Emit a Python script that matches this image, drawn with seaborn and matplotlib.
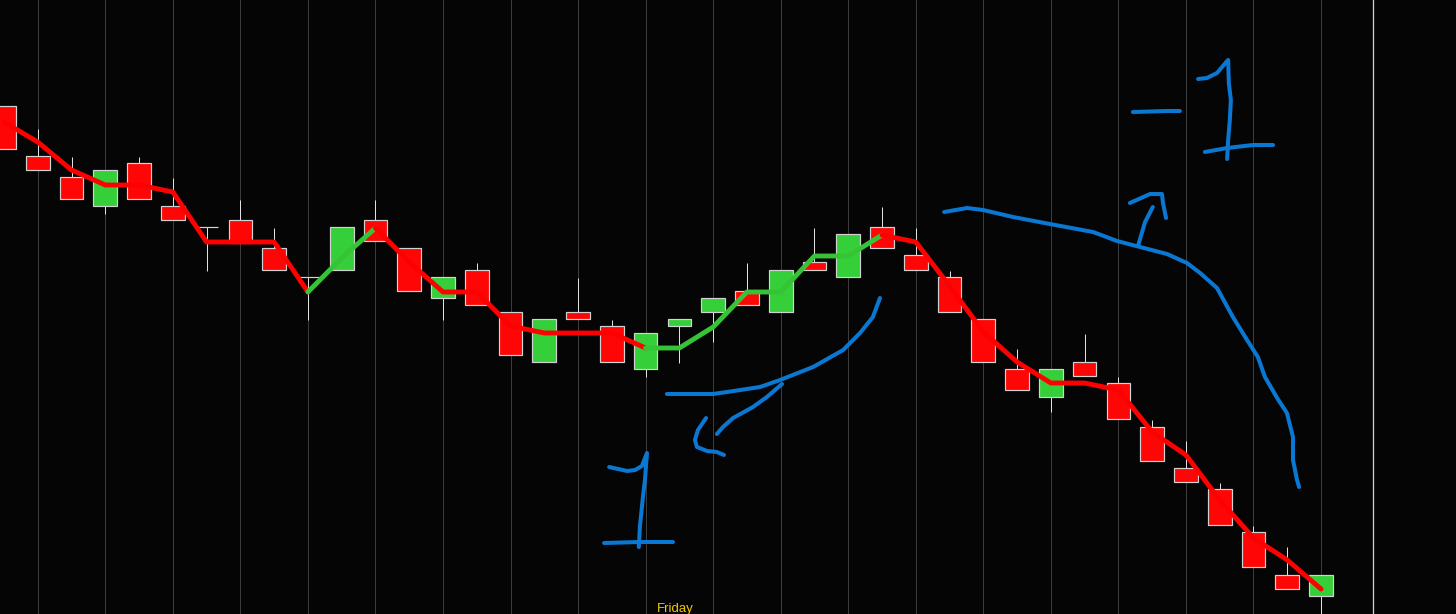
import numpy as np
import pandas as pd
import matplotlib
matplotlib.use("Agg")
import matplotlib.pyplot as plt
import seaborn as sns

# ---------------- data (price units are arbitrary) ----------------
opens  = [50.8, 45.8, 43.7, 40.8, 45.1, 40.8, 38.7, 39.4, 36.6, 33.7,
          34.4, 39.4, 36.6, 31.6, 34.4, 30.2, 25.2, 30.2, 28.8, 24.5,
          28.8, 30.2, 32.3, 30.2, 35.2, 33.7, 38.7, 35.9, 33.7, 29.5,
          24.5, 21.7, 25.2, 23.1, 18.7, 14.6, 12.5, 8.2, 3.9, 1.8]
highs  = [50.8, 48.5, 45.7, 44.4, 45.7, 43.6, 38.7, 41.4, 38.6, 33.7,
          38.7, 41.4, 36.6, 33.7, 35.1, 30.2, 29.5, 33.6, 29.4, 28.1,
          29.5, 31.6, 35.1, 34.4, 38.6, 38.0, 40.7, 38.6, 34.3, 29.5,
          26.5, 24.5, 28.0, 23.7, 19.4, 17.3, 13.1, 8.8, 6.7, 3.9]
lows   = [46.5, 44.4, 41.5, 40.0, 41.5, 39.4, 34.3, 37.1, 34.4, 29.4,
          34.4, 37.3, 32.3, 29.4, 30.9, 25.9, 25.2, 29.5, 25.2, 23.7,
          25.1, 27.2, 30.9, 30.2, 34.4, 33.7, 36.6, 34.4, 30.2, 25.2,
          22.4, 20.2, 23.8, 19.5, 15.3, 13.2, 8.9, 4.7, 2.5, -1.0]
closes = [46.5, 44.4, 41.5, 44.4, 41.5, 39.4, 38.7, 37.1, 34.4, 33.7,
          38.7, 37.3, 32.3, 33.7, 30.9, 25.9, 29.5, 29.5, 25.2, 28.1,
          29.5, 31.6, 30.9, 34.4, 34.4, 38.0, 36.6, 34.4, 30.2, 25.2,
          22.4, 24.5, 23.8, 19.5, 15.3, 13.2, 8.9, 4.7, 2.5, 3.9]

# trend line (one value per candle) and its state per segment
line_values = [49.2, 47.2, 44.4, 42.9, 42.9, 42.2, 37.2, 37.2, 37.2, 32.2,
               35.6, 38.6, 35.2, 32.2, 32.2, 28.8, 28.1, 28.1, 28.1, 26.6,
               26.6, 28.7, 32.2, 32.2, 35.8, 35.8, 37.9, 37.2, 32.8, 28.2,
               25.2, 23.1, 23.1, 22.4, 18.2, 15.9, 11.4, 7.6, 5.4, 2.5]
line_trend = ["down", "down", "down", "down", "down", "down", "down", "down", "down",
              "up", "up",
              "down", "down", "down", "down", "down", "down", "down", "down",
              "up", "up", "up", "up", "up", "up", "up",
              "down", "down", "down", "down", "down", "down", "down", "down",
              "down", "down", "down", "down", "down"]

session_label = "Friday"
session_label_x = 19.87
now_marker_x = 40.53

# hand-drawn annotation strokes, in (candle index, price) units
stroke_one_stem = [(17.92, 14.7), (18.45, 14.3), (18.69, 14.4), (18.89, 14.8), (19.04, 16.1),
                   (18.98, 13.4), (18.92, 11.7), (18.83, 8.7), (18.80, 6.7)]
stroke_one_base = [(17.77, 7.1), (18.83, 7.2), (19.81, 7.2)]
stroke_up_curve = [(19.63, 22.0), (20.99, 22.0), (21.41, 22.2), (22.39, 22.7), (22.98, 23.4),
                   (23.96, 24.7), (24.85, 26.4), (25.35, 28.1), (25.73, 29.7), (25.94, 31.6)]
stroke_up_arrow_shaft = [(23.04, 23.0), (22.59, 21.7), (22.18, 20.7), (21.59, 19.6),
                         (21.29, 18.7), (21.11, 18.0)]
stroke_up_arrow_head = [(20.79, 19.6), (20.55, 18.4), (20.46, 17.4), (20.52, 16.7),
                        (20.82, 16.3), (21.11, 16.2), (21.32, 15.9)]
stroke_down_curve = [(27.84, 40.2), (28.52, 40.6), (28.99, 40.4), (29.88, 39.7), (30.97, 39.0),
                     (32.25, 38.2), (32.96, 37.3), (33.64, 36.7), (34.44, 36.0), (35.03, 35.1),
                     (35.42, 34.1), (35.92, 32.6), (36.39, 29.7), (36.81, 27.4), (37.13, 25.7),
                     (37.34, 23.7), (37.70, 21.6), (37.99, 20.1), (38.17, 17.7), (38.17, 15.4),
                     (38.29, 13.4), (38.35, 12.7)]
stroke_down_arrow_shaft = [(33.58, 36.8), (33.79, 39.2), (34.02, 40.7)]
stroke_down_arrow_head = [(33.34, 41.1), (33.94, 42.0), (34.29, 42.0), (34.32, 41.1), (34.41, 39.6)]
stroke_minus = [(33.43, 50.2), (34.44, 50.3), (34.82, 50.3)]
stroke_minus_one_stem = [(35.36, 53.5), (35.62, 53.6), (35.92, 54.1), (36.22, 55.3), (36.25, 55.4),
                         (36.27, 53.1), (36.33, 51.4), (36.30, 49.4), (36.25, 47.4), (36.22, 45.5)]
stroke_minus_one_base = [(35.56, 46.2), (36.22, 46.6), (36.99, 46.9), (37.58, 46.9)]

strokes = [stroke_one_stem, stroke_one_base, stroke_up_curve, stroke_up_arrow_shaft,
           stroke_up_arrow_head, stroke_down_curve, stroke_down_arrow_shaft,
           stroke_down_arrow_head, stroke_minus, stroke_minus_one_stem, stroke_minus_one_base]

# ---------------- style ----------------
BG = "#050505"
RED = "#FF0606"
GREEN = "#35CF39"
LINE_RED = "#FF0000"
LINE_GREEN = "#36C436"
EDGE = "#D2D2D2"
WICK = "#E2E2E2"
GRID = "#3C3C3C"
BLUE = "#0A78D2"

sns.set_theme(style="dark", rc={"axes.facecolor": BG, "figure.facecolor": BG})

df = pd.DataFrame({"o": opens, "h": highs, "l": lows, "c": closes})
df["i"] = np.arange(len(df))
df["bottom"] = df[["o", "c"]].min(axis=1)
df["height"] = (df["c"] - df["o"]).abs()
df["color"] = np.where(df["c"] > df["o"], GREEN, np.where(df["c"] < df["o"], RED, "none"))

fig = plt.figure(figsize=(14.56, 6.14), dpi=100)
ax = fig.add_axes([0, 0, 1, 1])
ax.set_facecolor(BG)

px = 0.72  # one pixel in points

# vertical grid every other candle
grid_x = df["i"][df["i"] % 2 == 1]
ax.vlines(grid_x, -5, 70, color=GRID, lw=px, zorder=0)
ax.vlines([now_marker_x], -5, 70, color="#CFCFCF", lw=px * 1.3, zorder=0)

# wicks
ax.vlines(df["i"], df["l"], df["h"], color=WICK, lw=px, zorder=1)
# bodies
ax.bar(df["i"], df["height"], bottom=df["bottom"], width=0.70,
       color=df["color"], edgecolor=EDGE, linewidth=px * 1.2, zorder=2)

# trend line, coloured by state
seg = pd.DataFrame({"x": df["i"], "y": line_values})
start = 0
for k in range(1, len(line_trend) + 1):
    if k == len(line_trend) or line_trend[k] != line_trend[start]:
        part = seg.iloc[start:k + 1]
        col = LINE_GREEN if line_trend[start] == "up" else LINE_RED
        sns.lineplot(data=part, x="x", y="y", ax=ax, color=col, lw=3.5, sort=False,
                     estimator=None, zorder=3, solid_capstyle="round", solid_joinstyle="round")
        start = k

# hand-drawn annotations
for s in strokes:
    xs, ys = zip(*s)
    ax.plot(xs, ys, color=BLUE, lw=2.9, solid_capstyle="round", solid_joinstyle="round", zorder=4)

ax.text(session_label_x, 0.2, session_label, color="#F2C900", fontsize=9.5,
        ha="center", va="baseline", family=["Liberation Sans", "DejaVu Sans"], zorder=5)

ax.set_xlim(-0.118, 42.997)
ax.set_ylim(0, 61.4)
ax.set_xlabel("")
ax.set_ylabel("")
ax.set_xticks([])
ax.set_yticks([])
ax.grid(False)
for sp in ax.spines.values():
    sp.set_visible(False)

fig.savefig("out.png", dpi=100, facecolor=BG)
